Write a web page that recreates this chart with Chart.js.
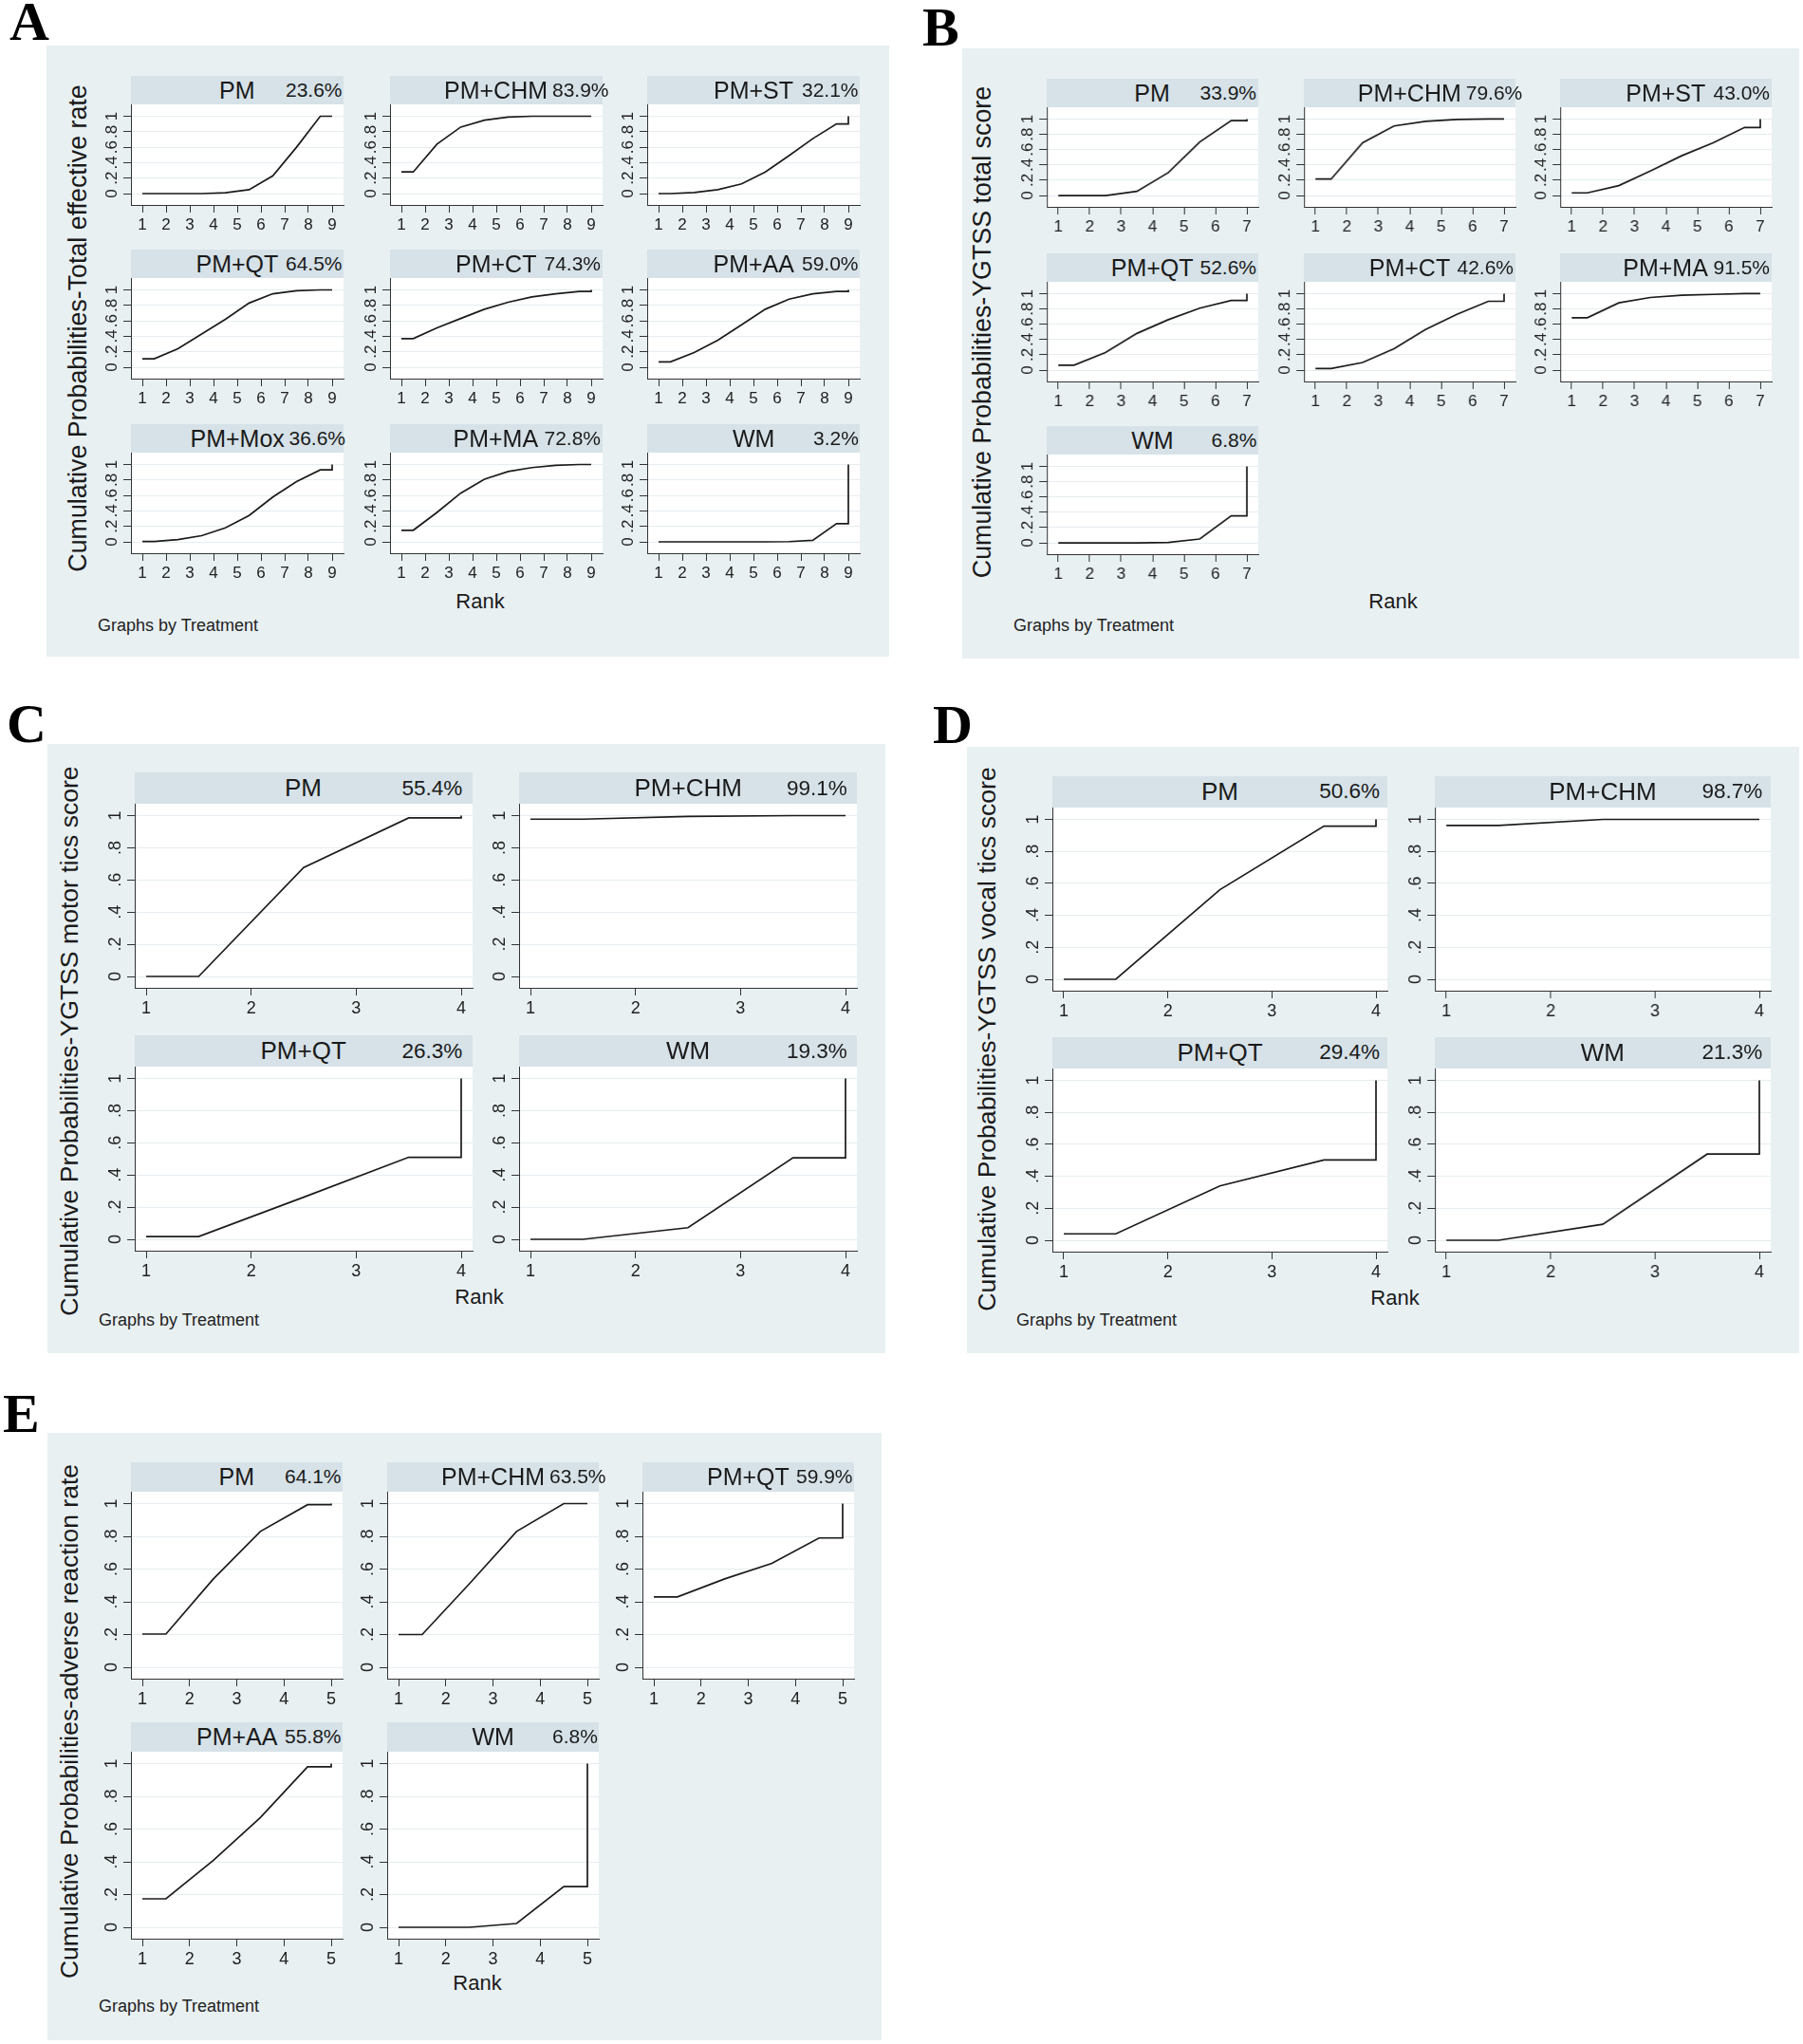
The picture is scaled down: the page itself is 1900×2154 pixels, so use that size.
<!DOCTYPE html>
<html>
<head>
<meta charset="utf-8">
<script src="https://cdn.jsdelivr.net/npm/chart.js@4.4.0/dist/chart.umd.min.js"></script>
<style>
  body { margin: 0; background: #fff; }
  #page { position: relative; width: 1900px; height: 2154px; overflow: hidden; font-family: "Liberation Sans", Arial, sans-serif; color: #1a1a1a; }
  .bg { position: absolute; background: #e8f0f2; }
  .letter { position: absolute; font-family: "Liberation Serif", "Times New Roman", serif; font-weight: bold; font-size: 58px; line-height: 58px; color: #000; }
  .strip { position: absolute; background: #d6e2e8; }
  .strip span { position: absolute; top: 0; white-space: nowrap; }
  .ytitle { position: absolute; white-space: nowrap; transform: translate(-50%, -50%) rotate(-90deg); }
  .rank { position: absolute; font-size: 22px; transform: translate(-50%, -50%); white-space: nowrap; }
  .gbt { position: absolute; font-size: 18px; transform: translateY(-50%); white-space: nowrap; color: #222; }
  canvas { position: absolute; }
</style>
</head>
<body>
<div id="page"></div>
<script>
// Valores del eje y (comunes a todos los paneles)
const yTickValues = [0, 0.2, 0.4, 0.6, 0.8, 1];
const yTickLabels = ["0", ".2", ".4", ".6", ".8", "1"];
const xAxisTitle = "Rank";
const byNote = "Graphs by Treatment";

// Panel A - Total effective rate (rangos 1..9, prob. acumulada de rango 1..8)
const aTitle = "Cumulative Probabilities-Total effective rate";
const aTreatments = ["PM", "PM+CHM", "PM+ST", "PM+QT", "PM+CT", "PM+AA", "PM+Mox", "PM+MA", "WM"];
const aSucra = ["23.6%", "83.9%", "32.1%", "64.5%", "74.3%", "59.0%", "36.6%", "72.8%", "3.2%"];
const aCumProb = [
  [0, 0, 0, 0.01, 0.05, 0.23, 0.60, 1.00],
  [0.28, 0.64, 0.86, 0.95, 0.99, 1.00, 1.00, 1.00],
  [0, 0.015, 0.05, 0.125, 0.28, 0.49, 0.71, 0.90],
  [0.11, 0.24, 0.43, 0.62, 0.83, 0.95, 0.99, 1.00],
  [0.37, 0.51, 0.63, 0.75, 0.84, 0.91, 0.95, 0.98],
  [0.07, 0.19, 0.35, 0.55, 0.75, 0.88, 0.95, 0.98],
  [0.005, 0.03, 0.08, 0.18, 0.34, 0.58, 0.78, 0.93],
  [0.15, 0.38, 0.63, 0.81, 0.91, 0.96, 0.99, 1.00],
  [0, 0, 0, 0, 0, 0.003, 0.02, 0.235]
];

// Panel B - YGTSS total score (rangos 1..7)
const bTitle = "Cumulative Probabilities-YGTSS total score";
const bTreatments = ["PM", "PM+CHM", "PM+ST", "PM+QT", "PM+CT", "PM+MA", "WM"];
const bSucra = ["33.9%", "79.6%", "43.0%", "52.6%", "42.6%", "91.5%", "6.8%"];
const bCumProb = [
  [0, 0, 0.055, 0.30, 0.70, 0.98],
  [0.215, 0.69, 0.91, 0.97, 0.995, 1.00],
  [0.035, 0.13, 0.32, 0.52, 0.69, 0.89],
  [0.065, 0.23, 0.48, 0.66, 0.81, 0.91],
  [0.02, 0.10, 0.28, 0.53, 0.73, 0.90],
  [0.685, 0.88, 0.95, 0.98, 0.99, 1.00],
  [0, 0, 0, 0.005, 0.05, 0.353]
];

// Panel C - YGTSS motor tics score (rangos 1..4)
const cTitle = "Cumulative Probabilities-YGTSS motor tics score";
const cTreatments = ["PM", "PM+CHM", "PM+QT", "WM"];
const cSucra = ["55.4%", "99.1%", "26.3%", "19.3%"];
const cCumProb = [
  [0, 0.677, 0.986],
  [0.978, 0.995, 1.00],
  [0.017, 0.262, 0.51],
  [0, 0.072, 0.507]
];

// Panel D - YGTSS vocal tics score (rangos 1..4)
const dTitle = "Cumulative Probabilities-YGTSS vocal tics score";
const dTreatments = ["PM", "PM+CHM", "PM+QT", "WM"];
const dSucra = ["50.6%", "98.7%", "29.4%", "21.3%"];
const dCumProb = [
  [0, 0.56, 0.958],
  [0.962, 1.00, 1.00],
  [0.04, 0.34, 0.502],
  [0, 0.10, 0.539]
];

// Panel E - adverse reaction rate (rangos 1..5)
const eTitle = "Cumulative Probabilities-adverse reaction rate";
const eTreatments = ["PM", "PM+CHM", "PM+QT", "PM+AA", "WM"];
const eSucra = ["64.1%", "63.5%", "59.9%", "55.8%", "6.8%"];
const eCumProb = [
  [0.203, 0.538, 0.83, 0.993],
  [0.20, 0.51, 0.83, 1.00],
  [0.43, 0.54, 0.635, 0.79],
  [0.174, 0.408, 0.67, 0.98],
  [0, 0, 0.023, 0.249]
];

// Disposición de cada panel (posiciones en px)
const panels = [
  { letter: "A", lx: 10, lb: 43, bg: [48.5, 48, 936.5, 692], title: aTitle, tx: 82, ty: 346, tlen: 514,
    names: aTreatments, sucra: aSucra, cum: aCumProb, cols: [138, 410.5, 682], colW: 224,
    rows: [79.5, 262.5, 447.3], stripH: 30, plotH: 106, rank: [506, 634], note: [103, 658.5],
    tickFs: 17, nameFs: 25, pctFs: 21, pctGap: 1 },
  { letter: "B", lx: 972, lb: 49, bg: [1013.5, 50.5, 1896, 694], title: bTitle, tx: 1035, ty: 350, tlen: 518,
    names: bTreatments, sucra: bSucra, cum: bCumProb, cols: [1103, 1374, 1644], colW: 222.5,
    rows: [82.6, 266.5, 448.7], stripH: 30, plotH: 105.5, rank: [1468, 634], note: [1068, 658.5],
    tickFs: 17, nameFs: 25, pctFs: 21, pctGap: 1 },
  { letter: "C", lx: 7, lb: 783, bg: [50, 784, 933, 1426], title: cTitle, tx: 73, ty: 1096.5, tlen: 579,
    names: cTreatments, sucra: cSucra, cum: cCumProb, cols: [141.5, 547], colW: 356,
    rows: [814, 1091], stripH: 33, plotH: 194, rank: [505, 1367], note: [104, 1391],
    tickFs: 18, nameFs: 26, pctFs: 22.5, pctGap: 10 },
  { letter: "D", lx: 983, lb: 784, bg: [1018.5, 787, 1896, 1426], title: dTitle, tx: 1040, ty: 1094.5, tlen: 573,
    names: dTreatments, sucra: dSucra, cum: dCumProb, cols: [1108.7, 1512], colW: 353.5,
    rows: [818, 1093], stripH: 32.5, plotH: 193, rank: [1470, 1368], note: [1071, 1391],
    tickFs: 18, nameFs: 26, pctFs: 22.5, pctGap: 8 },
  { letter: "E", lx: 3, lb: 1510, bg: [50, 1510, 929, 2150], title: eTitle, tx: 73, ty: 1813.5, tlen: 543,
    names: eTreatments, sucra: eSucra, cum: eCumProb, cols: [138, 408, 677], colW: 223,
    rows: [1541, 1815], stripH: 30.5, plotH: 197, rank: [503, 2090], note: [104, 2114],
    tickFs: 18, nameFs: 25, pctFs: 21, pctGap: 1 }
];

const page = document.getElementById("page");
const FONT = '"Liberation Sans", Arial, sans-serif';
const YW = 48;   // ancho reservado al eje y
const XH = 38;   // alto reservado al eje x
const RP = 10;   // margen derecho del canvas
const MARGIN = 12;

const measureCtx = document.createElement("canvas").getContext("2d");

function addDiv(cls, text, css) {
  const d = document.createElement("div");
  d.className = cls;
  if (text) d.textContent = text;
  Object.assign(d.style, css);
  page.appendChild(d);
  return d;
}

// Fondo blanco del área de trazado
const plotBackground = {
  id: "plotBackground",
  beforeDraw(chart) {
    const { ctx, chartArea: a } = chart;
    ctx.save();
    ctx.fillStyle = "#ffffff";
    ctx.fillRect(a.left, a.top, a.right - a.left, a.bottom - a.top);
    ctx.restore();
  }
};

// Puntos de la curva: meseta inicial, puntos medios y salto final hasta 1
function stepPoints(cum) {
  const n = cum.length + 1;
  const pts = [{ x: 1, y: cum[0] }];
  cum.forEach((c, i) => pts.push({ x: i + 1.5, y: c }));
  pts.push({ x: n, y: cum[n - 2] });
  pts.push({ x: n, y: 1 });
  return pts;
}

function drawSubplot(p, k) {
  const ncol = p.cols.length;
  const left = p.cols[k % ncol];
  const top = p.rows[Math.floor(k / ncol)];
  const n = p.cum[k].length + 1;
  const ranks = [];
  for (let r = 1; r <= n; r++) ranks.push(r);

  // Franja del título
  const strip = addDiv("strip", "", {
    left: left + "px", top: top + "px", width: p.colW + "px", height: p.stripH + "px"
  });
  const name = document.createElement("span");
  name.textContent = p.names[k];
  Object.assign(name.style, { fontSize: p.nameFs + "px", lineHeight: p.stripH + "px" });
  strip.appendChild(name);
  const pct = document.createElement("span");
  pct.textContent = p.sucra[k];
  Object.assign(pct.style, { fontSize: p.pctFs + "px", lineHeight: p.stripH + "px" });
  strip.appendChild(pct);
  const nw = name.offsetWidth, pw = pct.offsetWidth;
  const nameLeft = (p.colW - nw) / 2;
  name.style.left = nameLeft + "px";
  pct.style.left = Math.max(p.colW - p.pctGap - pw, nameLeft + nw + 5) + "px";

  // Canvas del gráfico
  const canvas = document.createElement("canvas");
  const cw = YW + p.colW + RP, ch = p.plotH + XH;
  canvas.width = cw;
  canvas.height = ch;
  canvas.style.left = (left - YW) + "px";
  canvas.style.top = (top + p.stripH) + "px";
  canvas.style.width = cw + "px";
  canvas.style.height = ch + "px";
  page.appendChild(canvas);

  const pxX = (p.colW - 2 * MARGIN) / (n - 1);
  const pxY = p.plotH - 2 * MARGIN - 0.5;
  const tickFont = { family: FONT, size: p.tickFs };

  new Chart(canvas.getContext("2d"), {
    type: "line",
    data: {
      datasets: [{
        data: stepPoints(p.cum[k]),
        borderColor: "#1b1b1b",
        borderWidth: 1.7,
        pointRadius: 0,
        tension: 0,
        fill: false
      }]
    },
    options: {
      responsive: false,
      animation: false,
      events: [],
      layout: { padding: { left: 0, right: RP, top: 0, bottom: 0 } },
      plugins: { legend: { display: false }, tooltip: { enabled: false } },
      scales: {
        x: {
          type: "linear",
          min: 1 - MARGIN / pxX,
          max: n + MARGIN / pxX,
          afterBuildTicks: s => { s.ticks = ranks.map(v => ({ value: v })); },
          afterFit: s => { s.height = XH; s.paddingLeft = 0; s.paddingRight = 0; },
          ticks: {
            autoSkip: false, minRotation: 0, maxRotation: 0, padding: 3,
            color: "#222", font: tickFont, callback: v => String(v)
          },
          grid: { drawOnChartArea: false, drawTicks: true, tickLength: 8, tickColor: "#333", tickWidth: 1 },
          border: { display: true, color: "#333", width: 1 }
        },
        y: {
          type: "linear",
          min: -MARGIN / pxY,
          max: 1 + (MARGIN + 0.5) / pxY,
          afterBuildTicks: s => { s.ticks = yTickValues.map(v => ({ value: v })); },
          afterFit: s => { s.width = YW; s.paddingTop = 0; s.paddingBottom = 0; },
          ticks: {
            autoSkip: false, minRotation: 90, maxRotation: 90, crossAlign: "center",
            padding: Math.max(1, 20 - 8 - 0.42 * p.tickFs),
            color: "#222", font: tickFont, callback: (v, i) => yTickLabels[i]
          },
          grid: { color: "#e6edf0", lineWidth: 1, drawTicks: true, tickLength: 8, tickColor: "#333", tickWidth: 1 },
          border: { display: true, color: "#333", width: 1 }
        }
      }
    },
    plugins: [plotBackground]
  });
}

panels.forEach(p => {
  const [x0, y0, x1, y1] = p.bg;
  addDiv("bg", "", { left: x0 + "px", top: y0 + "px", width: (x1 - x0) + "px", height: (y1 - y0) + "px" });
  addDiv("letter", p.letter, { left: p.lx + "px", top: (p.lb - 49) + "px" });

  // Título del eje y ajustado a la longitud medida
  measureCtx.font = "100px " + FONT;
  const fs = 100 * p.tlen / measureCtx.measureText(p.title).width;
  addDiv("ytitle", p.title, { left: p.tx + "px", top: p.ty + "px", fontSize: fs.toFixed(1) + "px" });

  addDiv("rank", xAxisTitle, { left: p.rank[0] + "px", top: p.rank[1] + "px" });
  addDiv("gbt", byNote, { left: p.note[0] + "px", top: p.note[1] + "px" });

  p.names.forEach((_, k) => drawSubplot(p, k));
});
</script>
</body>
</html>
